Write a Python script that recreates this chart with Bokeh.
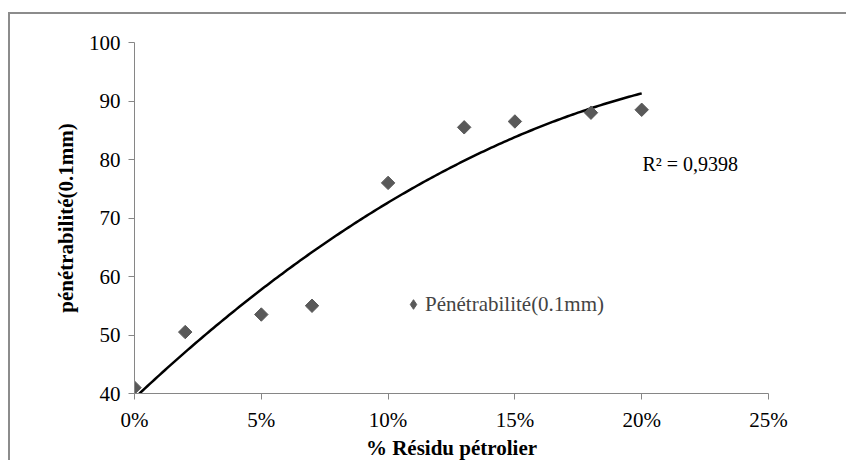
import numpy as np
from bokeh.plotting import figure
from bokeh.models import (ColumnDataSource, FixedTicker, NumeralTickFormatter, Label,
                          Legend, LegendItem, Range1d)
from bokeh.embed import file_html
from bokeh.resources import INLINE

# data
residu = [0.00, 0.02, 0.05, 0.07, 0.10, 0.13, 0.15, 0.18, 0.20]
penetrabilite = [41.0, 50.5, 53.5, 55.0, 76.0, 85.5, 86.5, 88.0, 88.5]
x_ticks = [0.0, 0.05, 0.10, 0.15, 0.20, 0.25]
y_ticks = [40, 50, 60, 70, 80, 90, 100]
series_name = "Pénétrabilité(0.1mm)"
r2_text = "R² = 0,9398"

FONT = "'Liberation Serif', 'Times New Roman', serif"
FS = "21px"
AXIS_GRAY = "#868686"
MARK = "#595959"

p = figure(width=838, height=448, output_backend="svg", toolbar_location=None,
           x_range=Range1d(0, 0.25), y_range=Range1d(40, 100),
           min_border_left=124, min_border_right=80, min_border_top=28, min_border_bottom=66)
p.styles = {"margin-left": "8px", "margin-top": "12px",
            "border-left": "2px solid #8c8c8c", "border-top": "2px solid #8c8c8c"}
p.outline_line_color = None
p.grid.grid_line_color = None
p.background_fill_color = "white"
p.border_fill_color = "white"

# axes
for ax in (p.xaxis[0], p.yaxis[0]):
    ax.axis_line_color = AXIS_GRAY
    ax.major_tick_line_color = AXIS_GRAY
    ax.major_tick_out = 6
    ax.major_tick_in = 0
    ax.minor_tick_line_color = None
    ax.major_label_text_font = FONT
    ax.major_label_text_font_size = FS
    ax.major_label_text_color = "#000000"
    ax.axis_label_text_font = FONT
    ax.axis_label_text_font_style = "bold"
    ax.axis_label_text_font_size = FS
    ax.axis_label_text_color = "#000000"

p.xaxis.ticker = FixedTicker(ticks=x_ticks)
p.xaxis.formatter = NumeralTickFormatter(format="0%")
p.yaxis.ticker = FixedTicker(ticks=y_ticks)
p.xaxis.axis_label = "% Résidu pétrolier"
p.yaxis.axis_label = "pénétrabilité(0.1mm)"
p.xaxis.major_label_standoff = 8
p.yaxis.major_label_standoff = 8
p.xaxis.axis_label_standoff = 1
p.yaxis.axis_label_standoff = 8

# polynomial (order 2) trend line fitted to the data
coef = np.polyfit(residu, penetrabilite, 2)
xs = np.linspace(min(residu), max(residu), 200)
ys = np.polyval(coef, xs)
p.line(xs, ys, line_color="black", line_width=2.5)

src = ColumnDataSource(dict(x=residu, y=penetrabilite))
p.scatter("x", "y", source=src, marker="square", angle=np.pi / 4, size=9.5,
          fill_color=MARK, line_color=MARK)

# legend swatch (diamond), not drawn in the plot area
swatch = p.scatter(x=[np.nan], y=[np.nan], marker="diamond", fill_color=MARK, line_color=MARK)

legend = Legend(items=[LegendItem(label=series_name, renderers=[swatch])],
                location=(267, 75), border_line_color=None, background_fill_alpha=0,
                padding=0, margin=0, glyph_width=24, glyph_height=28, label_standoff=-2,
                label_text_font=FONT, label_text_font_size=FS)
p.add_layout(legend, "center")

p.add_layout(Label(x=0.2003, y=79.3, text=r2_text, text_font=FONT, text_font_size="20px",
                   text_baseline="middle", text_color="#000000"))

open("out.html", "w").write(file_html(p, INLINE))
